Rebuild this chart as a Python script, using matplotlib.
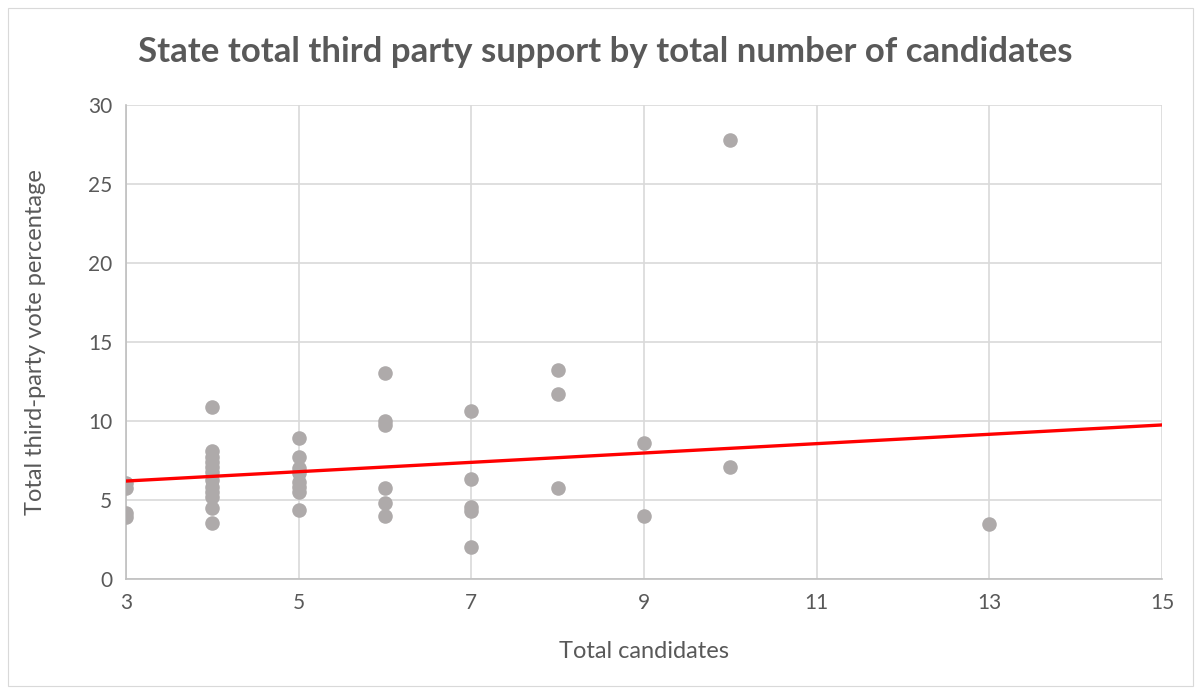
import numpy as np
import matplotlib
matplotlib.use("Agg")
import matplotlib.pyplot as plt
from matplotlib.patches import Rectangle

title = "State total third party support by total number of candidates"
x_label = "Total candidates"
y_label = "Total third-party vote percentage"

cand_3 = [6.1, 5.75, 4.2, 3.95]
cand_4 = [10.87, 8.12, 7.74, 7.43, 7.11, 6.79, 6.27, 5.84, 5.53, 5.21, 4.47, 3.52]
cand_5 = [8.9, 7.74, 7.0, 6.69, 6.16, 5.84, 5.53, 4.37]
cand_6 = [13.05, 10.0, 9.75, 5.74, 4.79, 4.0]
cand_7 = [10.63, 6.31, 4.54, 4.33, 2.05]
cand_8 = [13.25, 11.69, 5.78]
cand_9 = [8.63, 3.99]
cand_10 = [27.8, 7.11]
cand_13 = [3.45]

# linear trendline
trend_x = [3, 15]
trend_y = [6.2, 9.75]

groups = {3: cand_3, 4: cand_4, 5: cand_5, 6: cand_6, 7: cand_7,
          8: cand_8, 9: cand_9, 10: cand_10, 13: cand_13}
xs = np.concatenate([[k] * len(v) for k, v in groups.items()]).astype(float)
ys = np.concatenate([v for v in groups.values()])

x_ticks = [3, 5, 7, 9, 11, 13, 15]
y_ticks = [0, 5, 10, 15, 20, 25, 30]

W, H = 1201, 694
fig = plt.figure(figsize=(W / 100, H / 100), dpi=100)
fig.patches.append(Rectangle((8 / W, 8 / H), (1193 - 8) / W, (686 - 8) / H,
                             transform=fig.transFigure, fill=False,
                             edgecolor="#d9d9d9", linewidth=0.8))

ax = fig.add_axes([126 / W, 1 - 579 / H, (1162 - 126) / W, (579 - 105) / H])
ax.set_xlim(3, 15)
ax.set_ylim(0, 30)
ax.set_xticks(x_ticks)
ax.set_yticks(y_ticks)
ax.grid(True, color="#d9d9d9", linewidth=1.2)
ax.set_axisbelow(True)
for s in ["top", "right"]:
    ax.spines[s].set_visible(False)
for s in ["left", "bottom"]:
    ax.spines[s].set_color("#bfbfbf")
    ax.spines[s].set_linewidth(1.2)
ax.tick_params(length=0, labelsize=15, colors="#595959", pad=10)
for lab in ax.get_xticklabels() + ax.get_yticklabels():
    lab.set_fontfamily("Lato")

ax.scatter(xs, ys, s=110, color="#aeaaaa", zorder=3, linewidths=0)

ax.plot(trend_x, trend_y, color="#ff0000", linewidth=2.4, zorder=4)

ax.set_xlabel(x_label, fontsize=17, color="#595959", family="Lato", labelpad=20)
ax.set_ylabel(y_label, fontsize=17, color="#595959", family="Lato", labelpad=30)
fig.text(605 / W, 1 - 52 / H, title, ha="center", va="center",
         fontsize=25, fontweight="bold", color="#595959", family="Lato")

fig.savefig("out.png", dpi=100)
